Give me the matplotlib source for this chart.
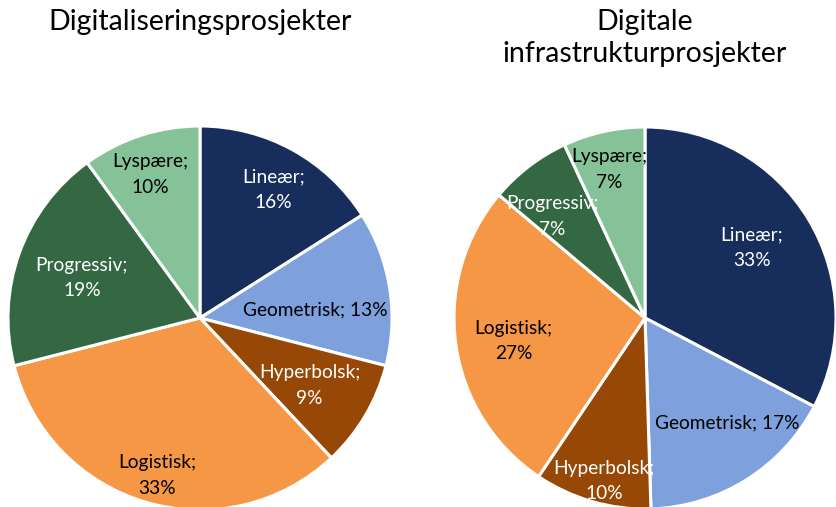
import numpy as np
import matplotlib.pyplot as plt

plt.rcParams['font.family'] = ['Lato', 'DejaVu Sans']

# data
categories = ["Lineær", "Geometrisk", "Hyperbolsk", "Logistisk", "Progressiv", "Lyspære"]
digi_values = [16, 13, 9, 33, 19, 10]
infra_values = [33, 17, 10, 27, 7, 7]
titles = ["Digitaliseringsprosjekter", "Digitale\ninfrastrukturprosjekter"]

colors = ["#172E5C", "#7EA1DE", "#974706", "#F59745", "#336843", "#86C297"]
text_colors = ["white", "black", "white", "black", "white", "black"]

# label placement (radius fraction, angle shift in degrees clockwise)
digi_label_pos = [(0.77, 1), (0.60, 5), (0.67, 1), (0.85, -1), (0.65, -1), (0.79, -1)]
infra_label_pos = [(0.67, -2), (0.70, -6), (0.88, -2), (0.70, -2), (0.72, -5), (0.80, -1)]
digi_single_line = ["Geometrisk"]
infra_single_line = ["Geometrisk"]

W, H = 837, 507
fig = plt.figure(figsize=(W / 100, H / 100), dpi=100)


def draw_pie(cx, cy, r, values, label_pos, single, title):
    ax = fig.add_axes([(cx - r) / W, (H - cy - r) / H, 2 * r / W, 2 * r / H])
    ax.pie(values, colors=colors, startangle=90, counterclock=False,
           wedgeprops=dict(edgecolor="white", linewidth=2.2))
    ax.set_xlim(-1, 1)
    ax.set_ylim(-1, 1)
    ax.set_aspect("equal")
    ax.axis("off")
    total = float(sum(values))
    cum = 0.0
    for cat, v, (rf, shift), tc in zip(categories, values, label_pos, text_colors):
        mid = (cum + v / 2.0) / total * 360.0 + shift
        cum += v
        theta = np.deg2rad(90 - mid)
        sep = " " if cat in single else "\n"
        ax.text(rf * np.cos(theta), rf * np.sin(theta), f"{cat};{sep}{v}%",
                ha="center", va="center", color=tc, fontsize=13.8,
                linespacing=1.6)
    fig.text(cx / W, 1 - 9 / H, title, ha="center", va="top",
             fontsize=20.5, linespacing=1.3)


draw_pie(200, 318, 192, digi_values, digi_label_pos, digi_single_line, titles[0])
draw_pie(645, 318, 191, infra_values, infra_label_pos, infra_single_line, titles[1])

fig.savefig("out.png", dpi=100)
